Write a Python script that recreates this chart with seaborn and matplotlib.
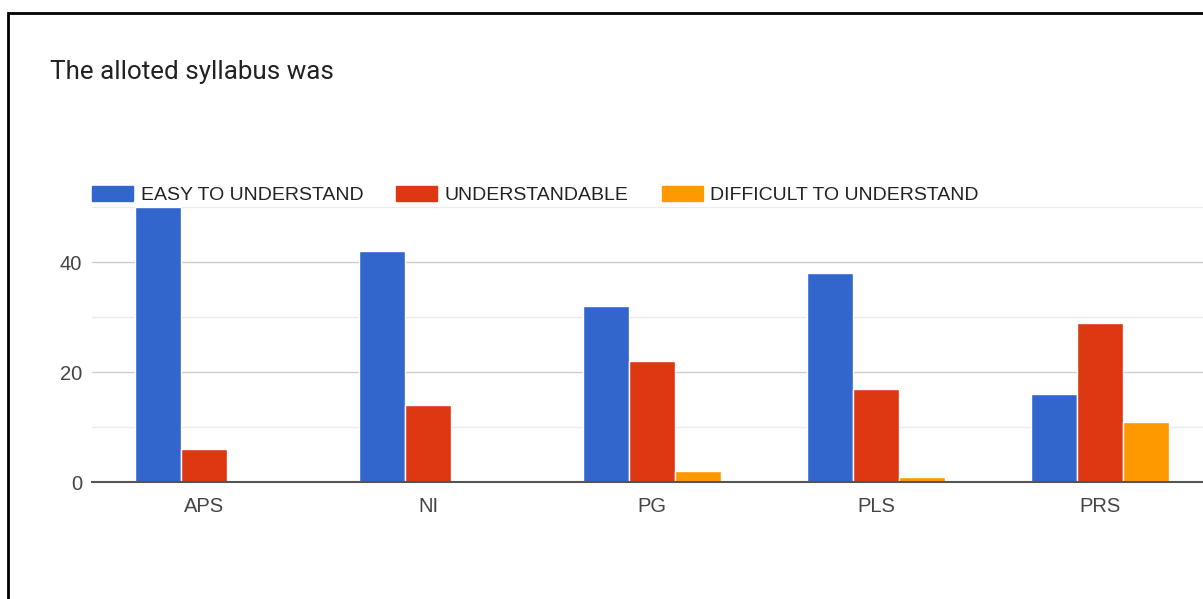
# grafico de barras agrupadas - "The alloted syllabus was"

import pandas as pd
import matplotlib.pyplot as plt
import seaborn as sns
from matplotlib.patches import Rectangle
from matplotlib.ticker import MultipleLocator

# dados
cursos = ['APS', 'NI', 'PG', 'PLS', 'PRS']
respostas = ['EASY TO UNDERSTAND', 'UNDERSTANDABLE', 'DIFFICULT TO UNDERSTAND']
easy = [50, 42, 32, 38, 16]
understandable = [6, 14, 22, 17, 29]
difficult = [0, 0, 2, 1, 11]
cores = ['#3366cc', '#dc3912', '#ff9900']

# montar tabela longa para o seaborn
df = pd.DataFrame({
    'curso': cursos * 3,
    'resposta': [respostas[0]] * 5 + [respostas[1]] * 5 + [respostas[2]] * 5,
    'valor': easy + understandable + difficult,
})

sns.set_style('white')
plt.rcParams['font.family'] = ['Liberation Sans', 'DejaVu Sans']

fig = plt.figure(figsize=(12.03, 5.99), dpi=100)
ax = fig.add_axes([92 / 1203, 117 / 599, 1120 / 1203, 275 / 599])

sns.barplot(data=df, x='curso', y='valor', hue='resposta', hue_order=respostas,
            palette=cores, saturation=1, width=0.62, edgecolor='white',
            linewidth=1, ax=ax)

# eixos e grade
ax.set_ylim(0, 50)
ax.set_xlim(-0.5, 4.5)
ax.yaxis.set_major_locator(MultipleLocator(20))
ax.yaxis.set_minor_locator(MultipleLocator(10))
ax.grid(axis='y', which='major', color='#cccccc', linewidth=1)
ax.grid(axis='y', which='minor', color='#ebebeb', linewidth=1)
ax.set_axisbelow(True)
for s in ['top', 'right', 'left']:
    ax.spines[s].set_visible(False)
ax.spines['bottom'].set_color('#555555')
ax.spines['bottom'].set_linewidth(1.5)
ax.set_xlabel('')
ax.set_ylabel('')
ax.tick_params(axis='both', which='both', length=0, labelsize=14.5, colors='#444444')
ax.tick_params(axis='y', pad=7)
ax.tick_params(axis='x', pad=11)
ax.set_yticks([0, 20, 40])

# legenda no topo
ax.get_legend().remove()
handles = [Rectangle((0, 0), 1, 1, color=c) for c in cores]
fig.legend(handles, respostas, loc='center left', bbox_to_anchor=(92 / 1203, 404 / 599),
           ncol=3, frameon=False, fontsize=14, handlelength=2.1, handleheight=0.85,
           handletextpad=0.4, columnspacing=1.7, borderpad=0, borderaxespad=0,
           labelcolor='#222222')

# titulo
fig.text(50 / 1203, (599 - 72) / 599, 'The alloted syllabus was', fontsize=18.7,
         family='Roboto', color='#222222', va='center', ha='left')

# moldura preta
fig.patches.append(Rectangle((8 / 1203, -0.1), 1.2, (599 - 13) / 599 + 0.1,
                             transform=fig.transFigure, fill=False,
                             edgecolor='black', linewidth=2))

plt.savefig('out.png', dpi=100)
